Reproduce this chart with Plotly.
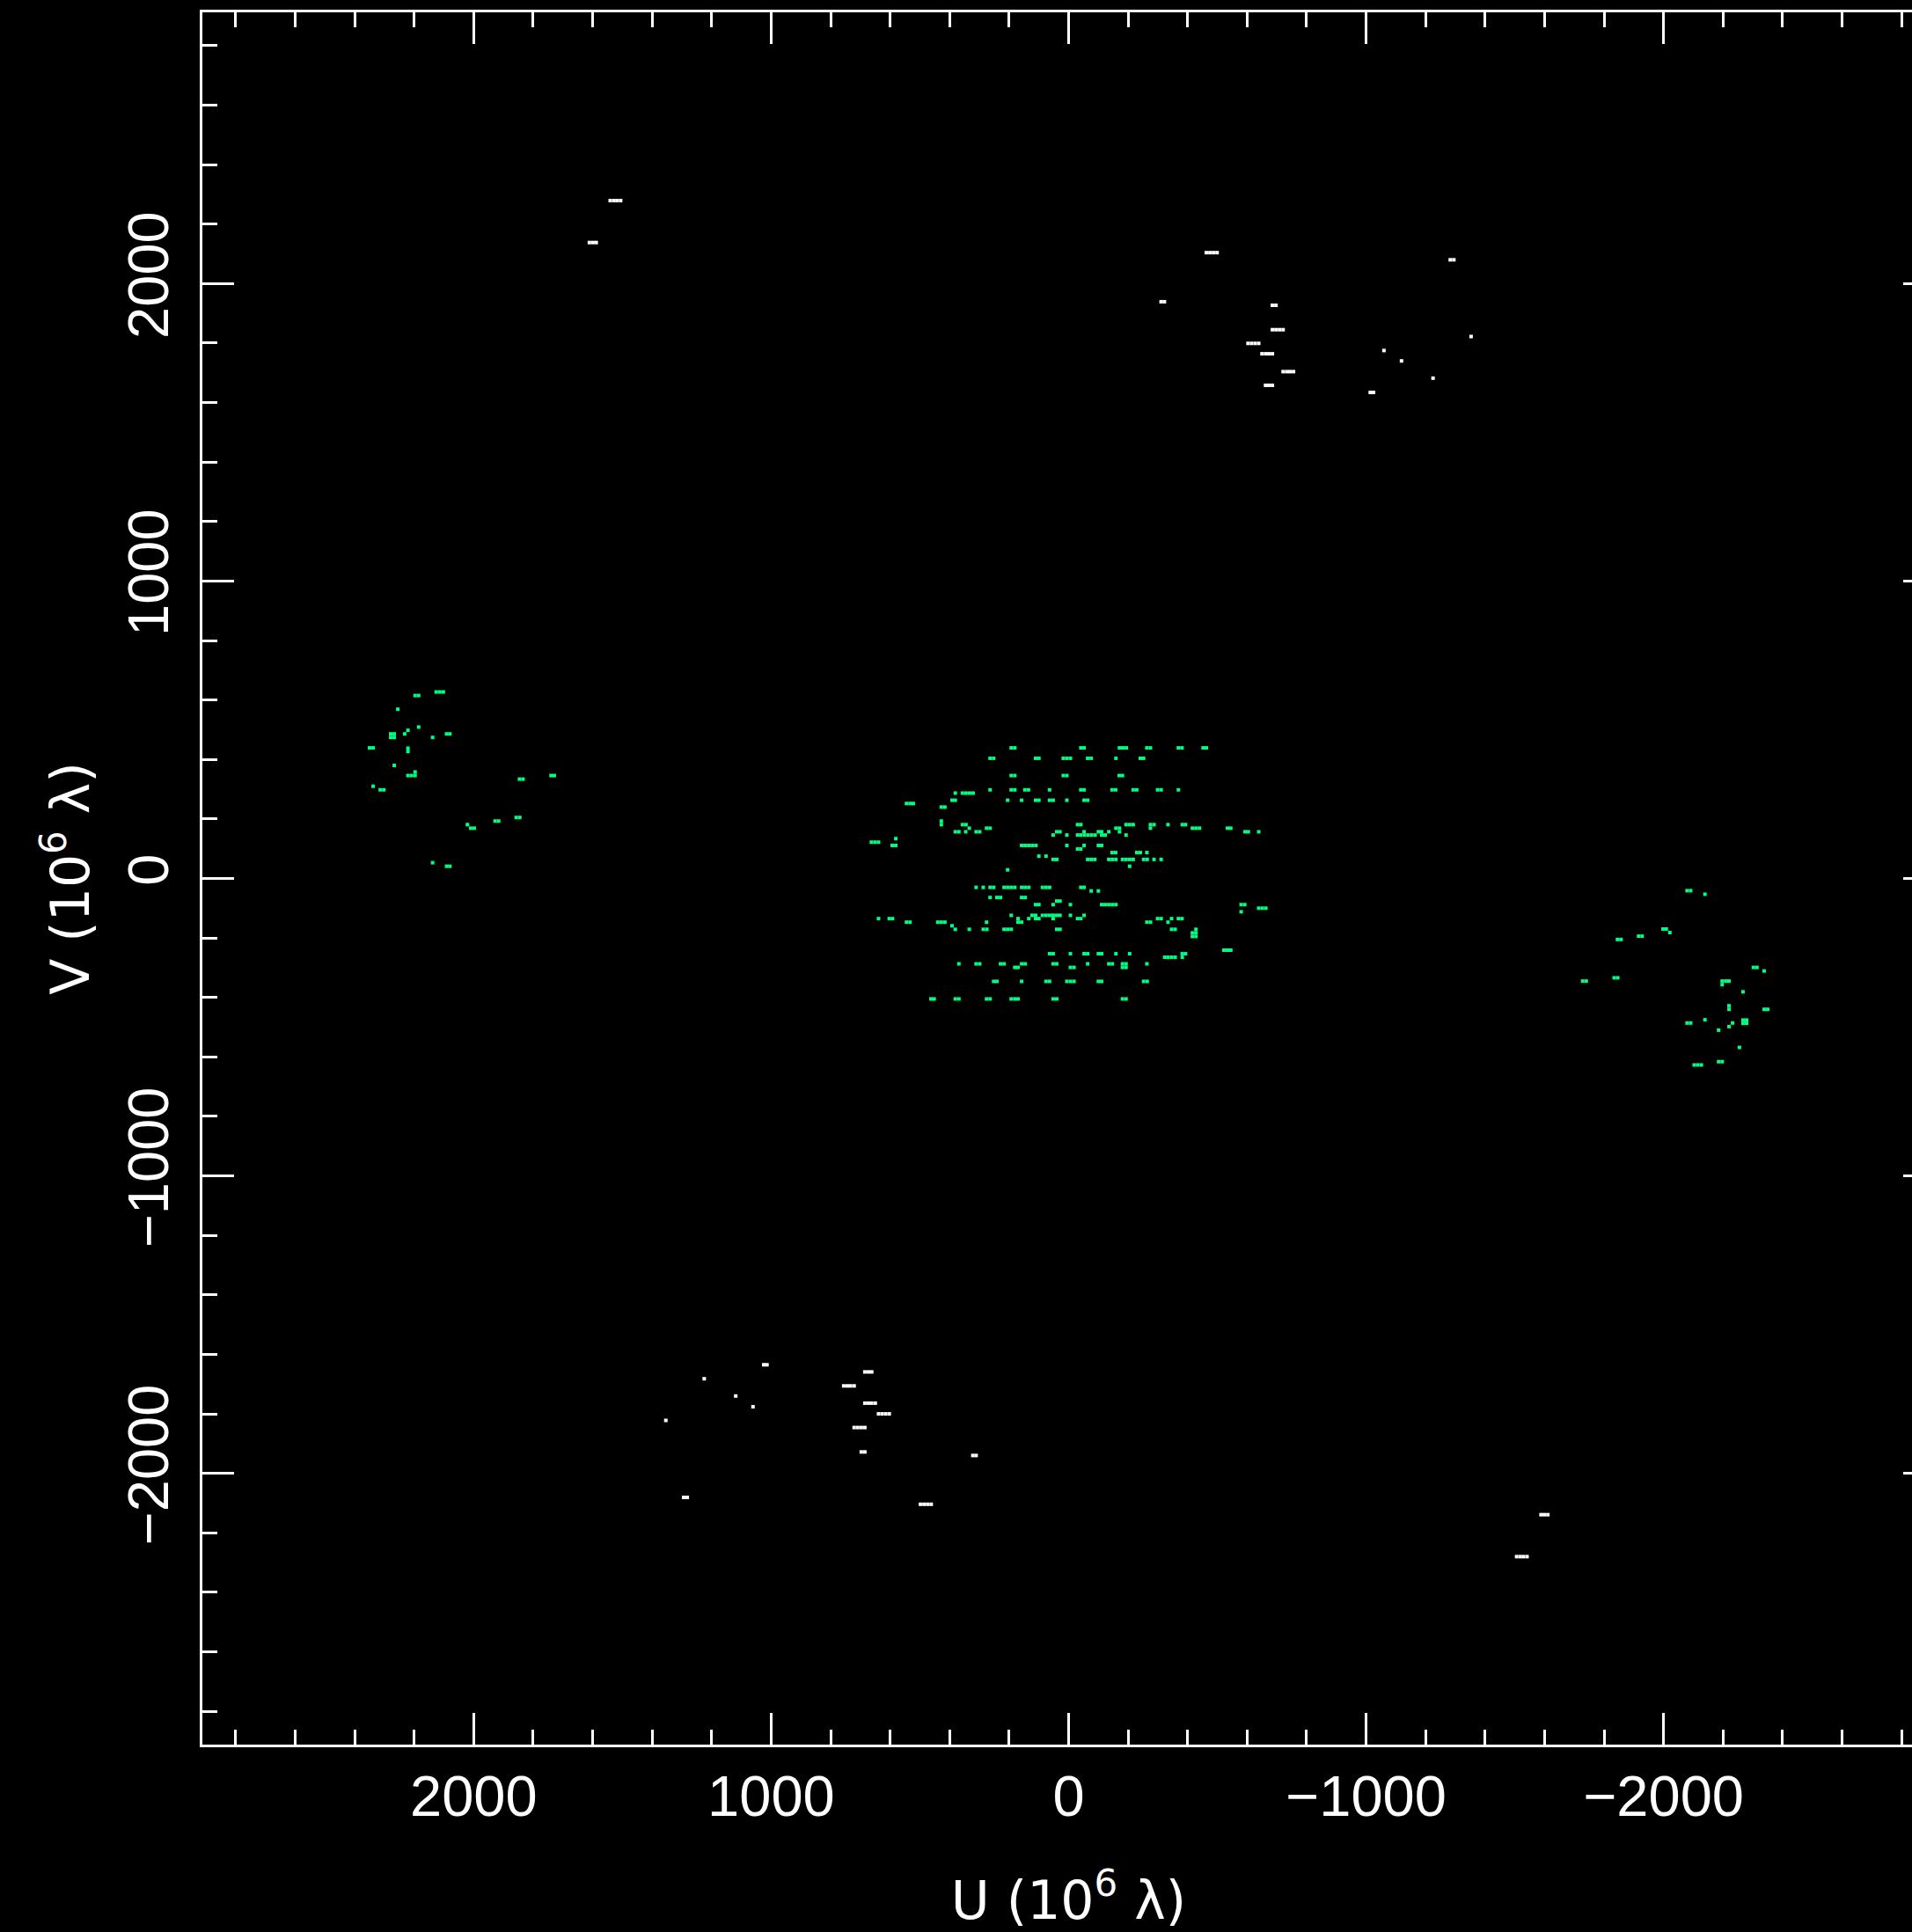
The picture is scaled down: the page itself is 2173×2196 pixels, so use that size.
import plotly.graph_objects as go

# ---------------- data (u, v in units of 10^6 wavelengths) ----------------
# Short-baseline (green) visibilities: central cluster, one row per v value
core_v = [439, 404, 346, 298, 287, 263, 252, 240, 193, 181, 181, 169, 157, 146, 134, 122,
          111, 99, 87, 75, 64, 41, 29,
          -30, -42, -64, -76, -88, -100, -112, -124, -135, -147, -159, -171, -183, -195,
          -241, -253, -265, -287, -299, -346, -405, -440]
core_u = [
    [193, 181, -41, -52, -171, -182, -194, -263, -275, -369, -381, -452, -463],
    [264, 252, 111, 100, 18, 6, -6, -64, -76, -159, -241, -252],
    [193, 181, 18, 6, -170, -181],
    [264, 193, 181, 147, 135, 64, -41, -52, -146, -158, -217, -229, -299, -311, -369],
    [381, 357, 345, 333, 321],
    [392, 381, 205, 158, 111, 100, 64, 52, 6, -52, -64],
    [545, 533, 522],
    [428, 416],
    [428],
    [428, 357, 345, -30, -41, -193, -205, -217, -275, -287, -334, -382],
    [-393],
    [334, 276, 264, -159, -171, -275, -416, -428, -440, -534, -545],
    [381, 369, 346, 311, 299, 40, 29, -52, -100, -111, -135, -171, -593, -604, -639],
    [52, 6, -30, -41, -53, -65, -77, -89, -111, -123, -193],
    [581],
    [663, 651, 639],
    [593, 581, 158, 146, 134, 122, 110, 6, -52, -100, -111],
    [-30, -41],
    [-146, -158, -229, -241, -263],
    [100, 76],
    [52, 40, -64, -76, -88, -135, -147, -159, -181, -193, -205, -217, -252, -264, -287, -311],
    [-205],
    [205],
    [311, 287, 264, 252, 217, 205, 193, 181, 158, 146, 134, 88, 76, 64, -41, -52],
    [-76, -100],
    [264, 241, 229, 158, 146],
    [40, 29],
    [111, 100, 52, -6, -111, -123, -135, -147, -159, -580, -592],
    [-639, -651, -663],
    [-580],
    [193, 123, 111, 88, 76, 64, 52, 40, 29, -6, -52],
    [639, 603, 592, 170, 134, 111, 100, 52, -30, -41, -299, -311, -346, -369, -381],
    [545, 533, 440, 428, 416, 276, 170, 158, -263, -275, -334],
    [392],
    [381, 334, 287, 275, 217, 205, 193, 40, 29, -346, -358, -428],
    [-416, -428],
    [-416, -428],
    [-522, -534, -545],
    [64, 52, -6, -52, -64, -100, -111, -159, -205, -382, -393],
    [-323, -334, -346, -358, -382],
    [369, 311, 299, 229, 217, 158, 146, 52, 40, -64, -135, -147, -181, -193, -263],
    [181, 170, -6, -18, -181, -193],
    [252, 241, 158, 76, 64, 6, -6, -18, -100, -111, -252, -264],
    [463, 452, 381, 369, 276, 264, 193, 181, 170, 52, 40, -181, -193],
]

# Green cluster on the left (positive u)
east_v = [615, 627, 569, 509, 498, 486, 474, 474, 486, 439, 438, 427, 380, 346, 358,
          310, 298, 334, 346, 181, 169, 193, 205, 53, 41]
east_u = [[2197, 2185], [2126, 2114, 2102], [2255], [2185], [2221], [2232, 2279, 2267],
          [2279, 2267], [2138], [2091, 2080], [2350, 2338], [2221], [2221], [2267],
          [2221, 2209, 2197], [2197], [2338], [2314, 2302], [1846, 1834], [1740, 1729],
          [2021], [2010, 1998], [1928, 1916], [1857, 1845], [2138], [2091, 2080]]

# Green cluster on the right (negative u)
west_v = [-41, -53, -170, -182, -194, -205, -345, -334, -299, -311, -345, -357, -381,
          -428, -440, -440, -486, -475, -486, -498, -510, -476, -487, -568, -616, -627]
west_u = [[-2079, -2091], [-2139], [-1998, -2009], [-2021], [-1916, -1928], [-1845, -1857],
          [-1728, -1740], [-1834, -1846], [-2302, -2314], [-2338], [-2197, -2209, -2220],
          [-2197], [-2267], [-2220], [-2220], [-2338, -2350], [-2079, -2091], [-2139],
          [-2232], [-2220], [-2185], [-2267, -2279], [-2267, -2279], [-2255],
          [-2185, -2197], [-2103, -2115, -2127]]

# Long-baseline (white) visibilities
long_v = [2104, 2080, 1939, 1927, 1845, 1799, 1764, 1704, 1658, 1822, 1775, 1740, 1682, 1634,
          -1635, -1682, -1740, -1776, -1822, -2081, -1659, -1706, -1764, -1800, -1846, -1928,
          -1940, -2104,
          2279, 2138, -2139, -2280]
long_u = [
    [-463, -475, -487, -499], [-1283, -1295], [-311, -322], [-685, -697],
    [-685, -697, -709, -721], [-603, -615, -627, -639], [-650, -662, -673, -685],
    [-721, -733, -744, -756], [-662, -673, -685], [-1353], [-1060], [-1119], [-1225],
    [-1014, -1025],
    [1025, 1014], [1225], [1119], [1061], [1354], [1294, 1282], [685, 673, 662],
    [756, 744, 733, 721], [685, 673, 662, 650], [639, 627, 615, 603],
    [721, 709, 697, 685], [697, 685], [322, 311], [498, 486, 474, 462],
    [1541, 1529, 1518, 1506], [1611, 1599, 1588], [-1588, -1599, -1611],
    [-1506, -1518, -1529, -1541],
]

tick_vals = [-2000, -1000, 0, 1000, 2000]
tick_text = ["\u22122000", "\u22121000", "0", "1000", "2000"]
axis_limit = 2912


def flatten(rows_v, rows_u):
    us, vs = [], []
    for v, ulist in zip(rows_v, rows_u):
        for u in ulist:
            us.append(u)
            vs.append(v)
    return us, vs


gu, gv = [], []
for rv, ru in ((core_v, core_u), (east_v, east_u), (west_v, west_u)):
    a, b = flatten(rv, ru)
    gu += a
    gv += b
wu, wv = flatten(long_v, long_u)

GREEN = "#00ff80"
FONT = "Liberation Sans"
TITLE_FONT = "DejaVu Sans"

fig = go.Figure()
fig.add_trace(go.Scatter(x=wu, y=wv, mode="markers", hoverinfo="skip",
                         marker=dict(symbol="square", size=4, color="white", line=dict(width=0))))
fig.add_trace(go.Scatter(x=gu, y=gv, mode="markers", hoverinfo="skip",
                         marker=dict(symbol="square", size=4, color=GREEN, line=dict(width=0))))

axis_common = dict(
    showline=True, linecolor="white", linewidth=3, mirror="allticks",
    ticks="inside", ticklen=36, tickwidth=3, tickcolor="white",
    showgrid=False, zeroline=False, automargin=False,
    tickmode="array", tickvals=tick_vals, ticktext=tick_text,
    tickfont=dict(family=FONT, size=65, color="white"),
    minor=dict(ticks="inside", ticklen=17, tickwidth=3, tickcolor="white",
               dtick=200, tick0=0, showgrid=False),
)

fig.update_layout(
    width=2230, height=2196,
    margin=dict(l=230, r=31, t=14, b=213, pad=0),
    paper_bgcolor="black", plot_bgcolor="black",
    showlegend=False,
    xaxis=dict(axis_common, range=[axis_limit, -axis_limit], ticklabelstandoff=0,
               title=dict(text="U (10<sup>6</sup> \u03bb)", standoff=62,
                          font=dict(family=TITLE_FONT, size=60, color="white"))),
    yaxis=dict(axis_common, range=[-axis_limit, axis_limit], tickangle=-90, ticklabelstandoff=10,
               title=dict(text="V (10<sup>6</sup> \u03bb)", standoff=12,
                          font=dict(family=TITLE_FONT, size=60, color="white"))),
)

post = ("document.body.style.margin='0';document.body.style.overflow='hidden';"
        "document.documentElement.style.overflow='hidden';")
fig.write_html("out.html", post_script=post, config={"displayModeBar": False})
